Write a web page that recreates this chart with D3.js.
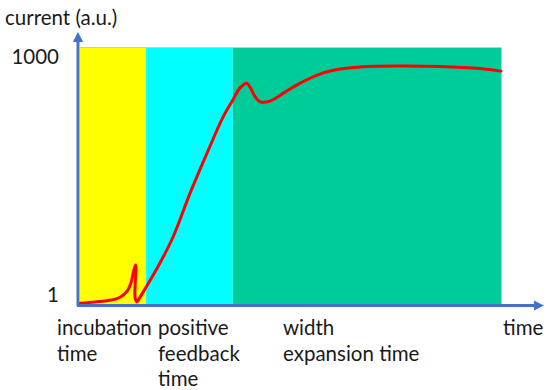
<!DOCTYPE html>
<html>
<head>
<meta charset="utf-8">
<script src="https://cdn.jsdelivr.net/npm/d3@7"></script>
<style>
  body { margin: 0; background: #fff; }
  text { font-family: Lato, "Open Sans", sans-serif; fill: #1a1a1a; }
</style>
</head>
<body>
<script>
// phases of the discharge (time in arbitrary units, 0..100)
var phaseStart = [0, 15.7, 36.3],
	phaseEnd = [15.7, 36.3, 100],
	phaseLabels = [["incubation", "time"], ["positive", "feedback", "time"], ["width", "expansion time"]];

// red current curve
var curveTime = [0, 3.6, 7.1, 9.5, 11.2, 12.1, 12.8, 13.2, 13.3, 13.1, 13.1, 13.5, 14.3, 15.7, 19.0, 22.1, 26.1, 30.2, 34.0, 36.3, 38.0, 39.6, 41.6, 42.8, 45.1, 48.7, 52.3, 57.0, 61.8, 66.5, 76.0, 85.5, 95.0, 100],
	curveCurrent = [0.79, 0.82, 0.86, 0.94, 1.12, 1.42, 2.07, 2.39, 2.19, 1.34, 0.92, 0.82, 0.95, 1.26, 2.54, 5.4, 19, 62, 176, 288, 409, 468, 316, 273, 279, 362, 470, 611, 706, 749, 771, 759, 716, 665];

var yTicks = [1, 1000];

var width = 550,
	height = 390,
	fontSize = "20.5px",
	phaseColors = ["#ffff00", "#00ffff", "#00cc99"],
	axisColor = "#4472c4",
	x = d3.scaleLinear().domain([0, 100]).range([80, 501]),
	y = d3.scaleLog().domain([0.75, 1340]).range([305, 47]);

var svg = d3.select("body").append("svg")
	.attr("width", width)
	.attr("height", height);

var defs = svg.append("defs");
defs.append("marker")
	.attr("id", "arrow")
	.attr("viewBox", "0 0 10 10")
	.attr("refX", 2)
	.attr("refY", 5)
	.attr("markerWidth", 3.4)
	.attr("markerHeight", 3.4)
	.attr("markerUnits", "strokeWidth")
	.attr("orient", "auto")
	.append("path")
	.attr("d", "M0,0L10,5L0,10Z")
	.attr("fill", axisColor);

// coloured phase bands
svg.selectAll(".phase")
	.data(phaseStart)
	.enter()
	.append("rect")
	.attr("class", "phase")
	.attr("x", function(d) { return x(d); })
	.attr("y", y.range()[1])
	.attr("width", function(d, i) { return x(phaseEnd[i]) - x(d); })
	.attr("height", y.range()[0] - y.range()[1])
	.attr("fill", function(d, i) { return phaseColors[i]; });

// thin grey frame top/right
svg.append("path")
	.attr("d", "M" + x(0) + "," + (y.range()[1] + 0.5) + "H" + (x(100) + 0.5) + "V" + y.range()[0])
	.attr("fill", "none")
	.attr("stroke", "#c8c8c8")
	.attr("stroke-width", 1);

// curve
var line = d3.line()
	.x(function(d) { return x(d[0]); })
	.y(function(d) { return y(d[1]); })
	.curve(d3.curveCatmullRom.alpha(0.5));

svg.append("path")
	.datum(d3.zip(curveTime, curveCurrent))
	.attr("d", line)
	.attr("fill", "none")
	.attr("stroke", "#ff0000")
	.attr("stroke-width", 3)
	.attr("stroke-linecap", "round")
	.attr("stroke-linejoin", "round");

// axes with arrows
svg.append("line")
	.attr("x1", 78).attr("y1", 306)
	.attr("x2", 78).attr("y2", 40)
	.attr("stroke", axisColor)
	.attr("stroke-width", 3)
	.attr("marker-end", "url(#arrow)");
svg.append("line")
	.attr("x1", 77).attr("y1", 305.5)
	.attr("x2", 536).attr("y2", 305.5)
	.attr("stroke", axisColor)
	.attr("stroke-width", 3)
	.attr("marker-end", "url(#arrow)");

var yAxis = svg.append("g")
	.attr("transform", "translate(62,0)")
	.call(d3.axisLeft(y).tickValues(yTicks).tickSize(0).tickFormat(d3.format("d")));
yAxis.select(".domain").remove();
yAxis.selectAll("text")
	.style("font-size", fontSize)
	.style("font-family", "Lato, sans-serif")
	.attr("fill", "#1a1a1a");

svg.append("text")
	.attr("x", 5)
	.attr("y", 25)
	.style("font-size", fontSize)
	.text("current (a.u.)");

svg.append("text")
	.attr("x", 503)
	.attr("y", 335)
	.style("font-size", fontSize)
	.text("time");

// phase labels under the x axis
var labelX = [57, 158, 283];
svg.selectAll(".phase-label")
	.data(phaseLabels)
	.enter()
	.append("text")
	.attr("class", "phase-label")
	.style("font-size", fontSize)
	.each(function(lines, i) {
		d3.select(this).selectAll("tspan")
			.data(lines)
			.enter()
			.append("tspan")
			.attr("x", labelX[i])
			.attr("y", function(d, j) { return 335 + j * 25.5; })
			.text(function(d) { return d; });
	});
</script>
</body>
</html>
